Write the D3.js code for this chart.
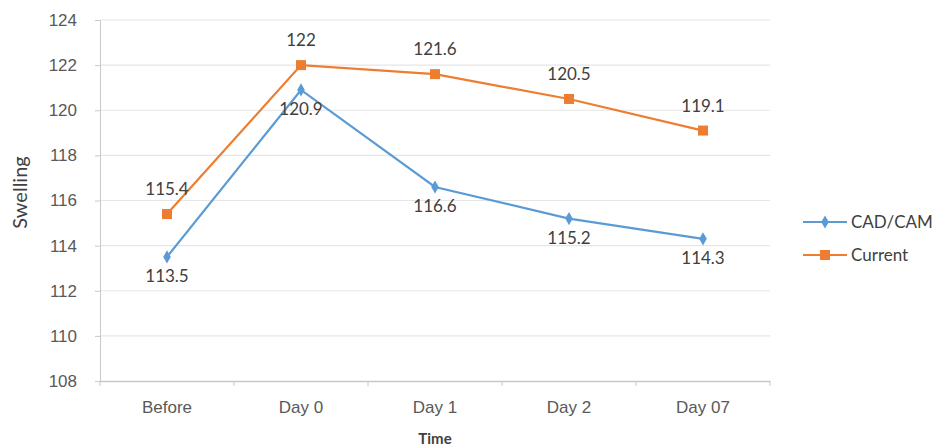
<!DOCTYPE html>
<html>
<head>
<meta charset="utf-8">
<script src="https://cdn.jsdelivr.net/npm/d3@7"></script>
<style>
  body { margin: 0; background: #fff; }
  svg { font-family: Lato, "Open Sans", sans-serif; }
</style>
</head>
<body>
<div id="chart"></div>
<script>
const categories = ['Before', 'Day 0', 'Day 1', 'Day 2', 'Day 07'];
const cadCam = [113.5, 120.9, 116.6, 115.2, 114.3];
const current = [115.4, 122, 121.6, 120.5, 119.1];
const yTicks = [108, 110, 112, 114, 116, 118, 120, 122, 124];

const width = 943;
const height = 448;
const margin = { top: 20, left: 100, right: 173, bottom: 67 };
const chartW = width - margin.left - margin.right;
const chartH = height - margin.top - margin.bottom;

const series = [
  { name: 'CAD/CAM', values: cadCam, color: '#5b9bd5', marker: 'diamond', labelDy: 25 },
  { name: 'Current', values: current, color: '#ed7d31', marker: 'square', labelDy: -19 }
];

const svg = d3.select('#chart').append('svg')
  .attr('width', width)
  .attr('height', height);

const g = svg.append('g')
  .attr('transform', `translate(${margin.left}, ${margin.top})`);

const xScale = d3.scaleBand()
  .domain(categories)
  .range([0, chartW]);

const yScale = d3.scaleLinear()
  .domain([108, 124])
  .range([chartH, 0]);

// grid
g.selectAll('.grid')
  .data(yTicks.slice(1))
  .enter().append('line')
  .attr('x1', 0)
  .attr('x2', chartW)
  .attr('y1', d => yScale(d))
  .attr('y2', d => yScale(d))
  .attr('stroke', '#e6e6e6')
  .attr('stroke-width', 1.2);

// y 轴
const yAxis = d3.axisLeft(yScale)
  .tickValues(yTicks)
  .tickSize(5)
  .tickPadding(18)
  .tickFormat(d3.format('d'));

const gy = g.append('g').call(yAxis);
gy.select('.domain').attr('stroke', '#c8c8c8');
gy.selectAll('.tick line').attr('stroke', '#c8c8c8');
gy.selectAll('.tick text')
  .attr('fill', '#595959')
  .attr('font-size', 17);

// x 轴
const xAxis = d3.axisBottom(xScale)
  .tickSize(0)
  .tickPadding(20);

const gx = g.append('g')
  .attr('transform', `translate(0, ${chartH})`)
  .call(xAxis);
gx.select('.domain').attr('stroke', '#c8c8c8').attr('stroke-width', 1.5);
gx.selectAll('.tick text')
  .attr('fill', '#595959')
  .attr('font-size', 17);

// x 轴刻度 (between categories)
g.selectAll('.xtick')
  .data(d3.range(categories.length + 1))
  .enter().append('line')
  .attr('x1', d => d * xScale.bandwidth())
  .attr('x2', d => d * xScale.bandwidth())
  .attr('y1', chartH)
  .attr('y2', chartH + 5)
  .attr('stroke', '#c8c8c8');

// titles
svg.append('text')
  .attr('transform', `translate(27, ${margin.top + chartH / 2 - 8}) rotate(-90)`)
  .attr('text-anchor', 'middle')
  .attr('fill', '#404040')
  .attr('font-size', 20)
  .text('Swelling');

svg.append('text')
  .attr('x', margin.left + chartW / 2)
  .attr('y', 444)
  .attr('text-anchor', 'middle')
  .attr('fill', '#404040')
  .attr('font-size', 15)
  .attr('font-weight', 'bold')
  .text('Time');

const xPos = c => xScale(c) + xScale.bandwidth() / 2;
const line = d3.line()
  .x((d, i) => xPos(categories[i]))
  .y(d => yScale(d));

const symbolFor = s => s.marker === 'square'
  ? d3.symbol().type(d3.symbolSquare).size(100)
  : d3.symbol().type(d3.symbolDiamond).size(50);

series.forEach(s => {
  g.append('path')
    .datum(s.values)
    .attr('fill', 'none')
    .attr('stroke', s.color)
    .attr('stroke-width', 2.2)
    .attr('d', line);

  g.selectAll(null)
    .data(s.values)
    .enter().append('path')
    .attr('d', symbolFor(s))
    .attr('fill', s.color)
    .attr('transform', (d, i) => `translate(${xPos(categories[i])}, ${yScale(d)})`);

  g.selectAll(null)
    .data(s.values)
    .enter().append('text')
    .attr('x', (d, i) => xPos(categories[i]))
    .attr('y', d => yScale(d) + s.labelDy)
    .attr('text-anchor', 'middle')
    .attr('fill', '#404040')
    .attr('font-size', 17)
    .text(d => d);
});

// legend
const legend = svg.append('g')
  .attr('transform', 'translate(803, 222)');

series.forEach((s, i) => {
  const row = legend.append('g')
    .attr('transform', `translate(0, ${i * 33})`);
  row.append('line')
    .attr('x1', 0)
    .attr('x2', 44)
    .attr('stroke', s.color)
    .attr('stroke-width', 2.2);
  row.append('path')
    .attr('d', symbolFor(s))
    .attr('fill', s.color)
    .attr('transform', 'translate(22, 0)');
  row.append('text')
    .attr('x', 48)
    .attr('y', 6)
    .attr('fill', '#404040')
    .attr('font-size', 17)
    .text(s.name);
});
</script>
</body>
</html>
